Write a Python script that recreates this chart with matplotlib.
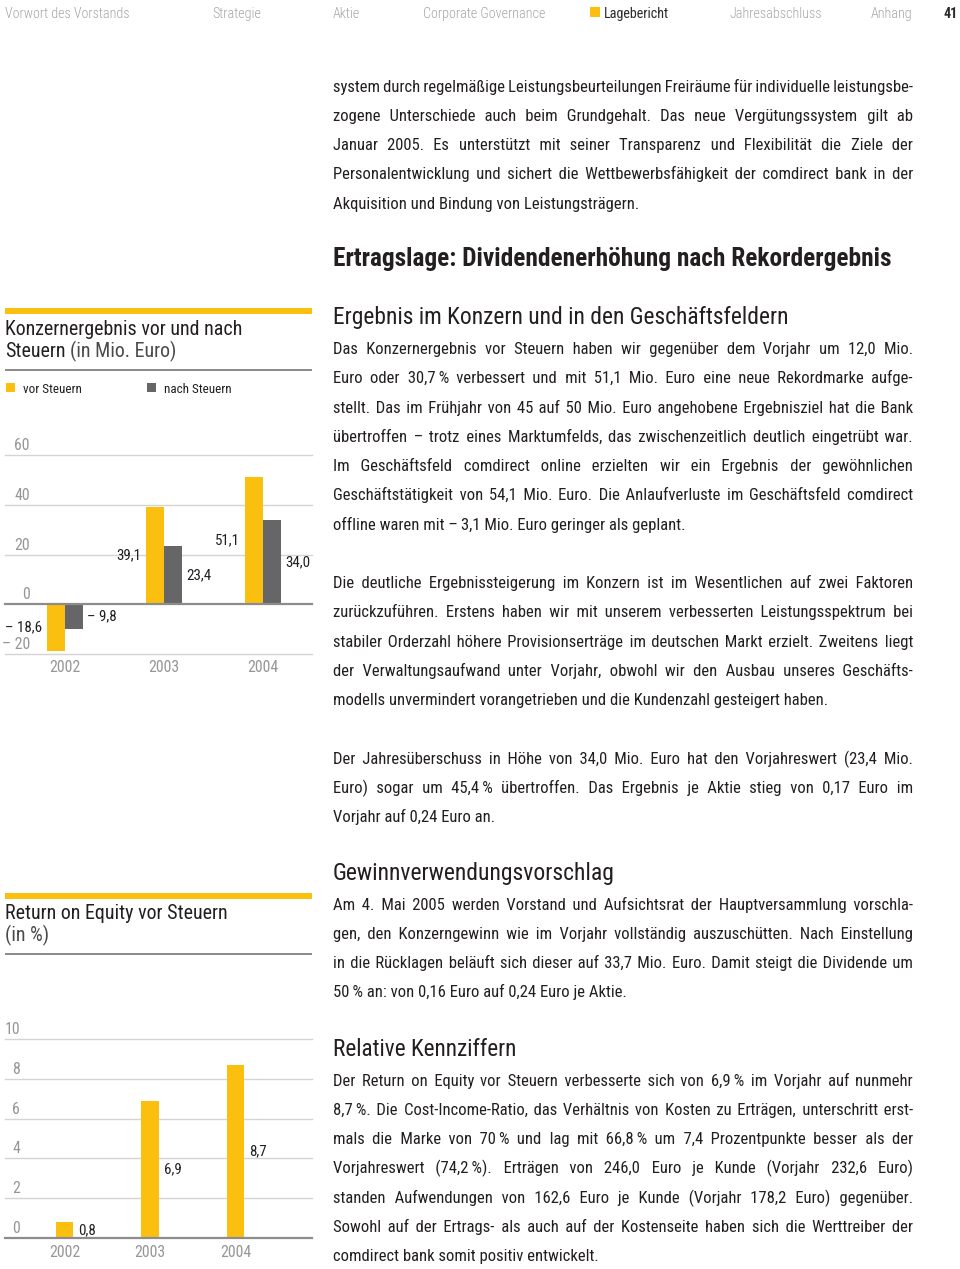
import matplotlib
matplotlib.use('Agg')
import matplotlib.pyplot as plt
from matplotlib import font_manager
from matplotlib.transforms import Affine2D, offset_copy
from matplotlib.patches import Rectangle
import numpy as np

# ---------------- data ----------------
years = ['2002', '2003', '2004']
profit_before_tax = [-18.6, 39.1, 51.1]
profit_after_tax = [-9.8, 23.4, 34.0]
profit_before_labels = ['– 18,6', '39,1', '51,1']
profit_after_labels = ['– 9,8', '23,4', '34,0']
profit_ticks = [60, 40, 20, 0, -20]
profit_tick_labels = ['60', '40', '20', '0', '– 20']

roe = [0.8, 6.9, 8.7]
roe_labels = ['0,8', '6,9', '8,7']
roe_ticks = [10, 8, 6, 4, 2, 0]
roe_tick_labels = ['10', '8', '6', '4', '2', '0']

chart1_title = ['Konzernergebnis vor und nach', 'Steuern', '(in Mio. Euro)']
chart2_title = ['Return on Equity vor Steuern', '(in %)']
legend_labels = ['vor Steuern', 'nach Steuern']

nav_items = ['Vorwort des Vorstands', 'Strategie', 'Aktie', 'Corporate Governance',
             'Lagebericht', 'Jahresabschluss', 'Anhang']
page_number = '41'

T = '\u2009'
par0 = [
    "system durch regelmäßige Leistungsbeurteilungen Freiräume für individuelle leistungsbe-",
    "zogene Unterschiede auch beim Grundgehalt. Das neue Vergütungssystem gilt ab",
    "Januar 2005. Es unterstützt mit seiner Transparenz und Flexibilität die Ziele der",
    "Personalentwicklung und sichert die Wettbewerbsfähigkeit der comdirect bank in der",
    "Akquisition und Bindung von Leistungsträgern.",
]
head1 = "Ertragslage: Dividendenerhöhung nach Rekordergebnis"
head2 = "Ergebnis im Konzern und in den Geschäftsfeldern"
par1 = [
    "Das Konzernergebnis vor Steuern haben wir gegenüber dem Vorjahr um 12,0 Mio.",
    f"Euro oder 30,7{T}% verbessert und mit 51,1 Mio. Euro eine neue Rekordmarke aufge-",
    "stellt. Das im Frühjahr von 45 auf 50 Mio. Euro angehobene Ergebnisziel hat die Bank",
    "übertroffen – trotz eines Marktumfelds, das zwischenzeitlich deutlich eingetrübt war.",
    "Im Geschäftsfeld comdirect online erzielten wir ein Ergebnis der gewöhnlichen",
    "Geschäftstätigkeit von 54,1 Mio. Euro. Die Anlaufverluste im Geschäftsfeld comdirect",
    f"offline waren mit –{T}3,1 Mio. Euro geringer als geplant.",
]
par2 = [
    "Die deutliche Ergebnissteigerung im Konzern ist im Wesentlichen auf zwei Faktoren",
    "zurückzuführen. Erstens haben wir mit unserem verbesserten Leistungsspektrum bei",
    "stabiler Orderzahl höhere Provisionserträge im deutschen Markt erzielt. Zweitens liegt",
    "der Verwaltungsaufwand unter Vorjahr, obwohl wir den Ausbau unseres Geschäfts-",
    "modells unvermindert vorangetrieben und die Kundenzahl gesteigert haben.",
]
par3 = [
    "Der Jahresüberschuss in Höhe von 34,0 Mio. Euro hat den Vorjahreswert (23,4 Mio.",
    f"Euro) sogar um 45,4{T}% übertroffen. Das Ergebnis je Aktie stieg von 0,17 Euro im",
    "Vorjahr auf 0,24 Euro an.",
]
head3 = "Gewinnverwendungsvorschlag"
par4 = [
    "Am 4. Mai 2005 werden Vorstand und Aufsichtsrat der Hauptversammlung vorschla-",
    "gen, den Konzerngewinn wie im Vorjahr vollständig auszuschütten. Nach Einstellung",
    "in die Rücklagen beläuft sich dieser auf 33,7 Mio. Euro. Damit steigt die Dividende um",
    f"50{T}% an: von 0,16 Euro auf 0,24 Euro je Aktie.",
]
head4 = "Relative Kennziffern"
par5 = [
    f"Der Return on Equity vor Steuern verbesserte sich von 6,9{T}% im Vorjahr auf nunmehr",
    f"8,7{T}%. Die Cost-Income-Ratio, das Verhältnis von Kosten zu Erträgen, unterschritt erst-",
    f"mals die Marke von 70{T}% und lag mit 66,8{T}% um 7,4 Prozentpunkte besser als der",
    f"Vorjahreswert (74,2{T}%). Erträgen von 246,0 Euro je Kunde (Vorjahr 232,6 Euro)",
    "standen Aufwendungen von 162,6 Euro je Kunde (Vorjahr 178,2 Euro) gegenüber.",
    "Sowohl auf der Ertrags- als auch auf der Kostenseite haben sich die Werttreiber der",
    "comdirect bank somit positiv entwickelt.",
]

# ---------------- style ----------------
YEL = '#FBBF10'
DARK = '#666668'
TXT = '#231F20'
NAV = '#A6A6A6'
GRID = '#D4D4D4'
ZERO = '#8C8C8C'
TICK = '#969696'

W, H = 960, 1269
fig = plt.figure(figsize=(W / 100, H / 100), dpi=100)
fig.patch.set_facecolor('white')
PX = Affine2D().scale(1, -1).translate(0, H)

avail = {f.name for f in font_manager.fontManager.ttflist}
main_font = next((n for n in ['Liberation Sans Narrow', 'Roboto Condensed',
                              'Open Sans Condensed', 'Arial Narrow'] if n in avail),
                 'DejaVu Sans')
FAM = [main_font, 'DejaVu Sans']
renderer = fig.canvas.get_renderer()


def tw(s, size, weight='normal'):
    t = fig.text(0, 0, s, fontsize=size, fontfamily=FAM, fontweight=weight, transform=PX)
    w = t.get_window_extent(renderer).width
    t.remove()
    return w


def fit(s, target, weight='normal'):
    return 12 * target / tw(s, 12, weight)


def put(x, y, s, size, color=TXT, weight='normal', ha='left'):
    return fig.text(x, y, s, fontsize=size, fontfamily=FAM, fontweight=weight,
                    color=color, ha=ha, va='baseline', transform=PX)


def rect(x0, y0, x1, y1, color):
    fig.add_artist(Rectangle((x0, y0), x1 - x0, y1 - y0, transform=PX,
                             facecolor=color, edgecolor='none'))


# ---------------- header ----------------
nav_size = fit(nav_items[0], 128)
nav_x = [5, 212, 333, 423, 604, 730, 871]
for item, xx in zip(nav_items, nav_x):
    if item == 'Lagebericht':
        put(xx, 18, item, nav_size, color='#2a2a2a')
    else:
        put(xx, 18, item, nav_size, color=NAV, weight='light')
rect(590, 7, 600, 17, YEL)
put(958, 18, page_number, nav_size, color='#2a2a2a', weight='bold', ha='right')

# ---------------- body text ----------------
X0, X1 = 333, 913
STEP = 29.3
all_pars = [par0, par1, par2, par3, par4, par5]
s_last = fit("Akquisition und Bindung von Leistungsträgern.", 314)
s_fit = min(12 * (X1 - X0) / tw(l.replace(' ', T), 12)
            for p in all_pars for l in p[:-1])
body = min(s_last, s_fit)

SEPS = [' ', '\u2009', '\u200a']
_ref = tw('xx', body)
SEPW = {c: tw('x' + c + 'x', body) - _ref for c in SEPS}
FILL = '\u200a' if SEPW['\u200a'] > 0.3 else '\u2009'


def justified(line):
    words = line.split(' ')
    wws = [tw(w, body) for w in words]
    n = len(words) - 1
    G = (X1 - X0 - sum(wws)) / n
    out, target, cum = words[0], 0.0, 0.0
    fw = SEPW[FILL]
    for j in range(n):
        target += G
        need = target - cum
        best = None
        for base in SEPS:
            b = SEPW[base]
            k = max(0, int(round((need - b) / fw)))
            tot = b + k * fw
            err = abs(need - tot)
            if best is None or err < best[0] - 1e-6:
                best = (err, base + FILL * k, tot)
        out += best[1] + words[j + 1]
        cum += best[2]
    return out


def paragraph(lines, y0):
    for i, line in enumerate(lines):
        y = round(y0 + i * STEP)
        if i == len(lines) - 1:
            put(X0, y, line, body)
        else:
            put(X0, y, justified(line), body)


paragraph(par0, 91.5)
put(X0, 266, head1, fit(head1, 562, 'bold'), weight='bold')
put(X0, 324, head2, fit(head2, 456))
paragraph(par1, 354)
paragraph(par2, 588)
paragraph(par3, 763.5)
put(X0, 880, head3, fit(head3, 283))
paragraph(par4, 909.5)
put(X0, 1056, head4, fit(head4, 184))
paragraph(par5, 1085.5)


# ---------------- charts ----------------
def px_axes(x0, x1, ytop, ybot):
    ax = fig.add_axes([x0 / W, 1 - ybot / H, (x1 - x0) / W, (ybot - ytop) / H])
    ax.set_axis_off()
    return ax


title_size = fit(chart1_title[0], 239)
tick_size = fit('2002', 31)
val_size = fit('34,0', 25)

# Chart 1 frame
rect(5, 308, 312, 314, YEL)
put(5, 335, chart1_title[0], title_size)
put(5, 357, chart1_title[1], title_size)
off = tw(chart1_title[1] + ' (', title_size) - tw('(', title_size)
put(5 + off, 357, chart1_title[2], title_size, color='#4a4a4a')
rect(5, 369, 312, 371, ZERO)
leg_size = fit(legend_labels[0], 59)
rect(6, 383, 15, 392, YEL)
put(23, 393, legend_labels[0], leg_size)
rect(147, 383, 156, 392, DARK)
put(164, 393, legend_labels[1], leg_size)

ax1 = px_axes(5, 312, 455, 654)
x = np.arange(len(years))
ax1.set_xlim(-0.606, 2.495)
ax1.set_ylim(-20, 60)
bw = 0.182
ax1.bar(x - bw / 2, profit_before_tax, bw, color=YEL, zorder=2)
ax1.bar(x + bw / 2, profit_after_tax, bw, color=DARK, zorder=2)
tick_tr = offset_copy(ax1.get_yaxis_transform(), fig=fig, y=5, units='dots')
for v, lab in zip(profit_ticks, profit_tick_labels):
    if v == 0:
        ax1.axhline(v, color=ZERO, lw=1.6, zorder=3, clip_on=False)
    else:
        ax1.axhline(v, color=GRID, lw=1.0, zorder=1, clip_on=False)
    ax1.text((30 - 5) / 307, v, lab, transform=tick_tr, ha='right', va='baseline',
             fontsize=tick_size, fontfamily=FAM, color=TICK)
left_tr = offset_copy(ax1.transData, fig=fig, x=-5, units='dots')
right_tr = offset_copy(ax1.transData, fig=fig, x=4, units='dots')
for i in range(len(years)):
    ax1.text(x[i] - bw, profit_before_tax[i] / 2, profit_before_labels[i], transform=left_tr,
             ha='right', va='center', fontsize=val_size, fontfamily=FAM, color=TXT)
    ax1.text(x[i] + bw, profit_after_tax[i] / 2, profit_after_labels[i], transform=right_tr,
             ha='left', va='center', fontsize=val_size, fontfamily=FAM, color=TXT)
year_tr1 = offset_copy(ax1.get_xaxis_transform(), fig=fig, y=-18, units='dots')
for i, yr in enumerate(years):
    ax1.text(x[i], 0, yr, transform=year_tr1, ha='center', va='baseline',
             fontsize=tick_size, fontfamily=FAM, color=TICK)

# Chart 2 frame
rect(5, 893, 312, 899, YEL)
put(5, 919, chart2_title[0], title_size)
put(5, 941, chart2_title[1], title_size, color='#4a4a4a')
rect(5, 953, 312, 955, ZERO)

ax2 = px_axes(5, 312, 1039, 1238)
ax2.set_xlim(-0.696, 2.895)
ax2.set_ylim(0, 10)
bw2 = 0.205
ax2.bar(x, roe, bw2, color=YEL, zorder=2)
tick_tr2 = offset_copy(ax2.get_yaxis_transform(), fig=fig, y=5, units='dots')
for v, lab in zip(roe_ticks, roe_tick_labels):
    if v == 0:
        ax2.axhline(v, color=ZERO, lw=1.6, zorder=3, clip_on=False)
    else:
        ax2.axhline(v, color=GRID, lw=1.0, zorder=1, clip_on=False)
    ax2.text((20 - 5) / 307, v, lab, transform=tick_tr2, ha='right', va='baseline',
             fontsize=tick_size, fontfamily=FAM, color=TICK)
right_tr2 = offset_copy(ax2.transData, fig=fig, x=5, units='dots')
for i in range(len(years)):
    ax2.text(x[i] + bw2 / 2, roe[i] / 2, roe_labels[i], transform=right_tr2,
             ha='left', va='center', fontsize=val_size, fontfamily=FAM, color=TXT)
year_tr2 = offset_copy(ax2.get_xaxis_transform(), fig=fig, y=-19, units='dots')
for i, yr in enumerate(years):
    ax2.text(x[i], 0, yr, transform=year_tr2, ha='center', va='baseline',
             fontsize=tick_size, fontfamily=FAM, color=TICK)

fig.savefig('out.png', dpi=100, facecolor='white')
